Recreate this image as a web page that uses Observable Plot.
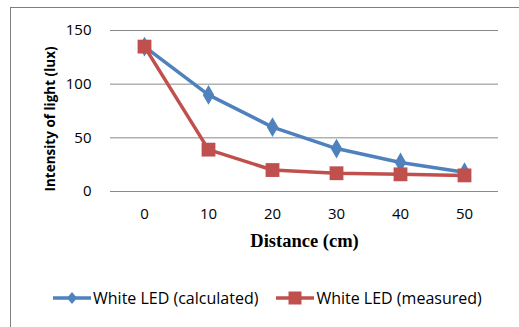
<!DOCTYPE html>
<html>
<head>
<meta charset="utf-8">
<script src="https://cdn.jsdelivr.net/npm/d3@7"></script>
<script src="https://cdn.jsdelivr.net/npm/@observablehq/plot@0.6"></script>
<style>
  html, body { margin: 0; padding: 0; background: #fff; }
  #wrap { position: relative; width: 519px; height: 327px; overflow: hidden; background: #fff; }
  #frame { position: absolute; left: 10px; top: 7px; width: 520px; height: 330px; border: 1px solid #7f7f7f; box-sizing: border-box; }
  #chart { position: absolute; left: 0; top: 0; }
  #legend { position: absolute; top: 287px; left: 53px; display: flex; align-items: center; font-family: "Open Sans", sans-serif; font-size: 16px; color: #000; white-space: nowrap; }
  #legend .item { display: flex; align-items: center; }
  #legend svg { display: block; }
</style>
</head>
<body>
<div id="wrap">
  <div id="frame"></div>
  <div id="chart"></div>
  <div id="legend"></div>
</div>
<script>
const distances = [0, 10, 20, 30, 40, 50];
const calculated = [135, 90, 60, 40, 27, 18];
const measured = [135, 39, 20, 17, 16, 15];
const yTicks = [0, 50, 100, 150];
const seriesNames = ["White LED (calculated)", "White LED (measured)"];
const xTitle = "Distance (cm)";
const yTitle = "Intensity of light (lux)";
const colors = ["#4F81BD", "#C0504D"];

const calcData = distances.map((d, i) => ({ d, v: calculated[i] }));
const measData = distances.map((d, i) => ({ d, v: measured[i] }));

const chart = Plot.plot({
  width: 519,
  height: 262,
  marginLeft: 110,
  marginRight: 21,
  marginTop: 30,
  marginBottom: 71,
  style: { fontFamily: "'Open Sans', sans-serif", fontSize: "15px", color: "#000", background: "transparent", overflow: "visible" },
  x: { type: "point", domain: distances, padding: 0.5 },
  y: { domain: [0, 150] },
  marks: [
    Plot.ruleY(yTicks, { stroke: "#8a8a8a", strokeWidth: 1 }),
    Plot.axisY(yTicks, { tickSize: 0, tickPadding: 19, label: null, fill: "#000" }),
    Plot.axisX(distances, { tickSize: 0, tickPadding: 17, label: null, fill: "#000" }),
    Plot.text([yTitle], { frameAnchor: "left", textAnchor: "middle", dx: -60, dy: 8, rotate: -90, text: d => d, fontWeight: "bold", fontSize: 13.5, fill: "#000" }),
    Plot.text([xTitle], { frameAnchor: "bottom", dy: 55, text: d => d, fontFamily: "'Liberation Serif', serif", fontWeight: "bold", fontSize: 18.5, fill: "#000" }),
    Plot.line(calcData, { x: "d", y: "v", stroke: colors[0], strokeWidth: 3.5 }),
    Plot.dot(calcData, { x: "d", y: "v", symbol: "diamond", r: 6, fill: colors[0], stroke: "none" }),
    Plot.line(measData, { x: "d", y: "v", stroke: colors[1], strokeWidth: 3.5 }),
    Plot.dot(measData, { x: "d", y: "v", symbol: "square", r: 7.8, fill: colors[1], stroke: "none" })
  ]
});
document.getElementById("chart").appendChild(chart);

const legend = document.getElementById("legend");
seriesNames.forEach((name, i) => {
  const item = document.createElement("div");
  item.className = "item";
  item.style.marginRight = i === 0 ? "18px" : "0";
  const sym = i === 0
    ? `<path d="M19,1 L24,7 L19,13 L14,7 Z" fill="${colors[i]}"/>`
    : `<rect x="12.5" y="0.5" width="13" height="13" fill="${colors[i]}"/>`;
  item.innerHTML = `<svg width="38" height="14"><line x1="0" y1="7" x2="38" y2="7" stroke="${colors[i]}" stroke-width="3.5"/>${sym}</svg><span style="margin-left:2px">${name}</span>`;
  legend.appendChild(item);
});
</script>
</body>
</html>
